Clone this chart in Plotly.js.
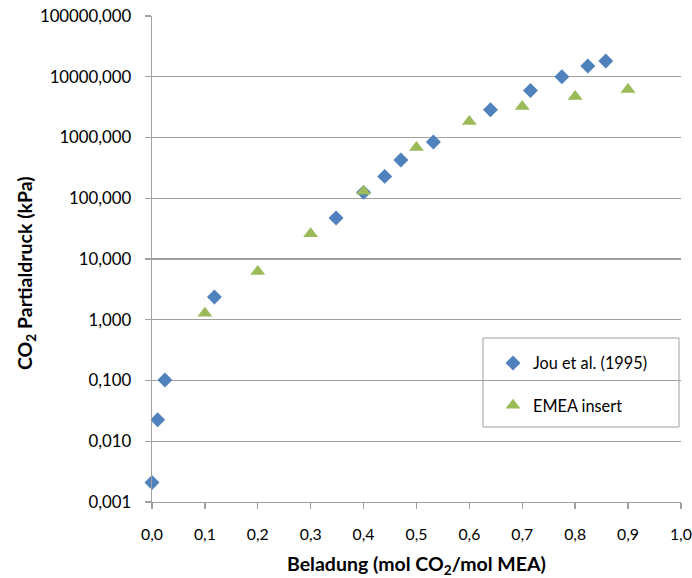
<!DOCTYPE html>
<html>
<head>
<meta charset="utf-8">
<script src="https://cdn.plot.ly/plotly-3.0.1.min.js"></script>
<style>html,body{margin:0;padding:0;background:#fff;}#chart{width:692px;height:578px;}</style>
</head>
<body>
<div id="chart"></div>
<script>
// Jou et al. (1995)
const jouX = [0.0, 0.0107, 0.0244, 0.118, 0.348, 0.400, 0.440, 0.4706, 0.532, 0.640, 0.7156, 0.775, 0.824, 0.858];
const jouY = [0.0021, 0.0226, 0.102, 2.37, 47.3, 125, 229, 426, 843, 2868, 5960, 10000, 15000, 18170];
// EMEA insert
const emeaX = [0.1, 0.2, 0.3, 0.4, 0.5, 0.6, 0.7, 0.8, 0.9];
const emeaY = [1.28, 6.25, 26, 130, 687, 1841, 3250, 4750, 6190];
const yTicks = [0.001, 0.01, 0.1, 1, 10, 100, 1000, 10000, 100000];
const xTicks = [0, 0.1, 0.2, 0.3, 0.4, 0.5, 0.6, 0.7, 0.8, 0.9, 1.0];
const seriesNames = ['Jou et al. (1995)', 'EMEA insert'];
const xTitle = '<b>Beladung (mol CO<sub>2</sub>/mol MEA)</b>';
const yTitle = '<b>CO<sub>2</sub> Partialdruck (kPa)</b>';

const FONT = 'Lato, "Open Sans", sans-serif';
const GRID = '#a0a0a0';
const traces = [
  {x: jouX, y: jouY, type: 'scatter', mode: 'markers', name: seriesNames[0], legendgroup: 'a',
   marker: {symbol: 'diamond', size: 11.5, color: '#4F81BD'}, cliponaxis: false},
  {x: emeaX, y: emeaY, type: 'scatter', mode: 'markers', name: seriesNames[1], legendgroup: 'b',
   marker: {symbol: 'triangle-up', size: 13, color: '#9BBB59'}, cliponaxis: false}
];
const L = 152, R = 681, T = 16, B = 502;
const W = R - L, H = B - T;
const px = v => (v - L) / W;
const py = v => (B - v) / H;
const layout = {
  width: 692, height: 578,
  margin: {l: L, r: 692 - R, t: T, b: 578 - B},
  separators: ',.',
  paper_bgcolor: '#fff', plot_bgcolor: '#fff',
  font: {family: FONT, size: 16.5, color: '#000'},
  showlegend: true,
  legend: {x: px(493), y: py(346), xanchor: 'left', yanchor: 'top',
    borderwidth: 0, bgcolor: 'rgba(0,0,0,0)',
    font: {family: FONT, size: 16.3, color: '#000'},
    traceorder: 'grouped', tracegroupgap: 18},
  shapes: [
    {type: 'rect', xref: 'paper', yref: 'paper', x0: px(483), x1: px(679), y0: py(427), y1: py(338),
     line: {color: GRID, width: 1}, fillcolor: '#fff', layer: 'below'}
  ],
  annotations: [
    {text: xTitle, xref: 'paper', yref: 'paper', x: px(416), y: py(565), xanchor: 'center', yanchor: 'middle',
     showarrow: false, font: {family: FONT, size: 19.5, color: '#000'}},
    {text: yTitle, xref: 'paper', yref: 'paper', x: px(26), y: py(273), xanchor: 'center', yanchor: 'middle',
     textangle: -90, showarrow: false, font: {family: FONT, size: 19.5, color: '#000'}}
  ],
  xaxis: {range: [0, 1.0002], tickvals: xTicks, tickformat: '.1f', showgrid: false, zeroline: false,
    showline: true, linecolor: GRID, linewidth: 1.3, ticks: 'outside', ticklen: 6, tickcolor: GRID, tickwidth: 1.3,
    ticklabeloverflow: 'allow', ticklabelstandoff: 12,
    tickfont: {family: FONT, size: 15.8, color: '#000'}},
  yaxis: {type: 'log', range: [-3, 5], tickvals: yTicks, tickformat: '.3f', showgrid: true, gridcolor: GRID, gridwidth: 1.3,
    zeroline: false, showline: true, linecolor: GRID, linewidth: 1.3, ticks: 'outside', ticklen: 6, tickcolor: GRID, tickwidth: 1.3,
    ticklabelstandoff: 10,
    tickfont: {family: FONT, size: 16.8, color: '#000'}}
};
Plotly.newPlot('chart', traces, layout, {displayModeBar: false, staticPlot: true});
</script>
</body>
</html>
